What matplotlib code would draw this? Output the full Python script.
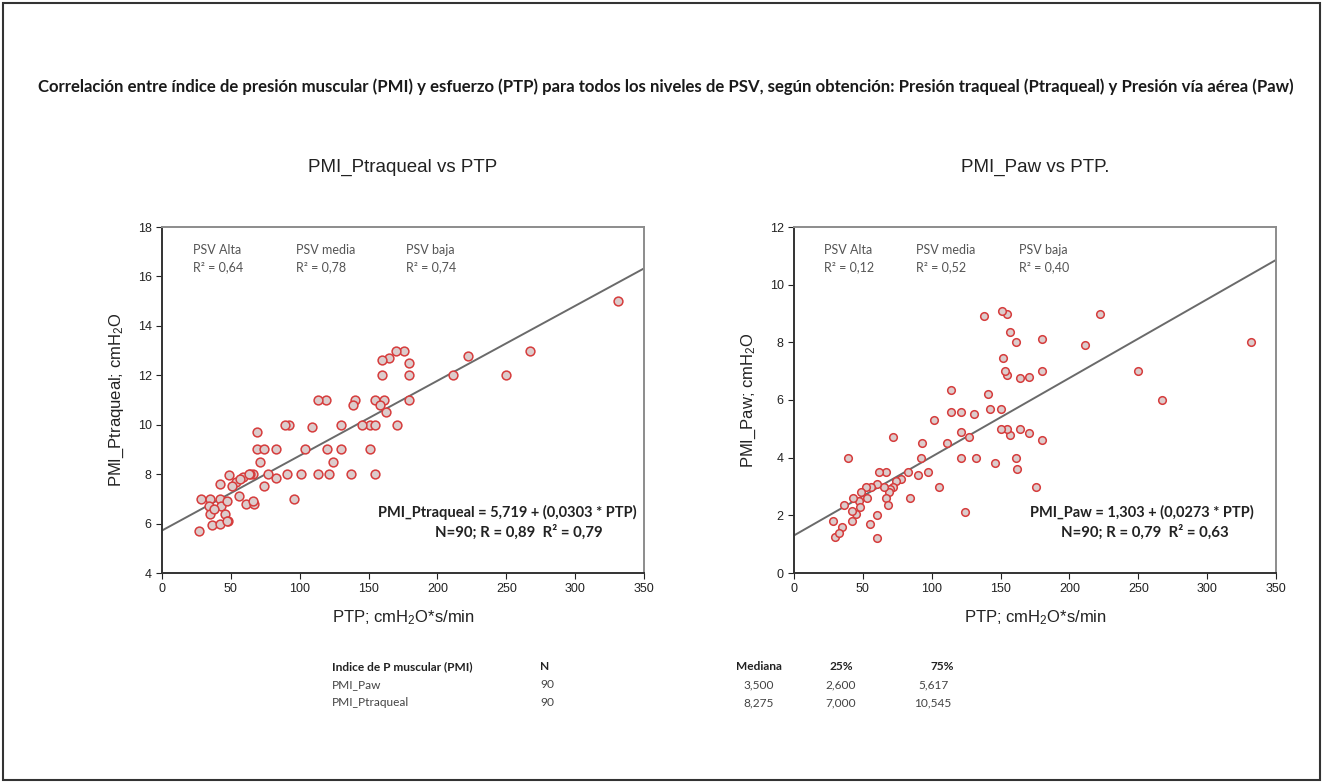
import matplotlib
matplotlib.use('Agg')
import matplotlib.pyplot as plt
from matplotlib.patches import Rectangle

plt.rcParams['font.family'] = ['Liberation Sans', 'DejaVu Sans']
plt.rcParams['mathtext.fontset'] = 'custom'
plt.rcParams['mathtext.rm'] = 'Liberation Sans'
plt.rcParams['mathtext.it'] = 'Liberation Sans'

# PTP (cmH2O*s/min) vs PMI obtained from tracheal pressure
ptp_traq = [331, 267, 250, 222, 211, 179, 179, 179, 176, 170, 165, 160, 160, 171,
            161, 155, 158, 163, 151, 155, 145, 151, 155, 140, 139, 130, 119, 113,
            109, 92, 89, 130, 120, 104, 124, 137, 121, 113, 101, 91, 83, 77, 96,
            69, 69, 74, 83, 71, 74, 66, 64, 59, 49, 54, 51, 42, 56, 61, 67, 28,
            35, 42, 34, 43, 35, 46, 48, 36, 42, 47, 27, 63, 57, 66, 47, 38]
pmi_traq = [15.0, 13.0, 12.0, 12.8, 12.0, 12.5, 12.0, 11.0, 13.0, 13.0, 12.7, 12.6,
            12.0, 10.0, 11.0, 11.0, 10.8, 10.5, 10.0, 10.0, 10.0, 9.0, 8.0, 11.0,
            10.8, 10.0, 11.0, 11.0, 9.9, 10.0, 10.0, 9.0, 9.0, 9.0, 8.5, 8.0, 8.0,
            8.0, 8.0, 8.0, 7.85, 8.0, 7.0, 9.7, 9.0, 9.0, 9.0, 8.5, 7.5, 8.0, 8.0,
            7.9, 7.95, 7.7, 7.5, 7.6, 7.1, 6.8, 6.8, 7.0, 7.0, 7.0, 6.7, 6.7, 6.4,
            6.4, 6.1, 5.95, 6.0, 6.1, 5.7, 8.0, 7.8, 6.9, 6.9, 6.6]

# PTP vs PMI obtained from airway pressure
ptp_paw = [332, 267, 250, 222, 211, 180, 180, 180, 176, 171, 171, 164, 164, 161,
           161, 162, 157, 157, 155, 155, 155, 153, 152, 151, 150, 150, 146, 142,
           141, 138, 132, 131, 127, 124, 121, 121, 121, 114, 114, 111, 105, 102,
           97, 93, 92, 90, 83, 84, 78, 74, 72, 72, 70, 69, 67, 67, 68, 62, 65,
           60, 60, 60, 56, 55, 52, 53, 49, 47, 43, 45, 42, 42, 39, 36, 35, 28,
           30, 33, 48]
pmi_paw = [8.0, 6.0, 7.0, 9.0, 7.9, 8.1, 7.0, 4.6, 3.0, 6.8, 4.85, 6.75, 5.0, 8.0,
           4.0, 3.6, 8.35, 4.8, 9.0, 6.85, 5.0, 7.0, 7.45, 9.1, 5.7, 5.0, 3.8, 5.7,
           6.2, 8.9, 4.0, 5.5, 4.7, 2.1, 5.6, 4.9, 4.0, 6.35, 5.6, 4.5, 3.0, 5.3,
           3.5, 4.5, 4.0, 3.4, 3.5, 2.6, 3.25, 3.2, 4.7, 3.0, 2.9, 2.8, 3.5, 2.6,
           2.35, 3.5, 3.0, 3.1, 2.0, 1.2, 3.0, 1.7, 3.0, 2.6, 2.8, 2.5, 2.6, 2.05,
           2.15, 1.8, 4.0, 2.35, 1.6, 1.8, 1.25, 1.4, 2.3]

# regression: intercept, slope
fit_traq = (5.719, 0.0303)
fit_paw = (1.303, 0.0273)

psv_levels = ['PSV Alta', 'PSV media', 'PSV baja']
r2_traq = ['0,64', '0,78', '0,74']
r2_paw = ['0,12', '0,52', '0,40']

table_cols = ['Indice de P muscular (PMI)', 'N', 'Mediana', '25%', '75%']
table_rows = [['PMI_Paw', '90', '3,500', '2,600', '5,617'],
              ['PMI_Ptraqueal', '90', '8,275', '7,000', '10,545']]

W, H = 1326, 783
fig = plt.figure(figsize=(W / 100, H / 100), dpi=100)

def fx(px):
    return px / W

def fy(py):
    return 1 - py / H

calib = ['Lato', 'DejaVu Sans']


def panel(left, x, y, fit, r2s, ylim, yticks, title, ylabel, eq, stats,
          psv_x, eq_x, stats_x, msize):
    ax = fig.add_axes([fx(left), fy(573), fx(482), 346 / H])
    ax.scatter(x, y, s=msize, facecolor='#dccccc', edgecolor='#d63c3c',
               linewidth=1.1, zorder=3)
    xs = [0, 350]
    ax.plot(xs, [fit[0] + fit[1] * v for v in xs], color='#6a6a6a', lw=1.4, zorder=2)
    ax.set_xlim(0, 350)
    ax.set_ylim(*ylim)
    ax.set_xticks(range(0, 351, 50))
    ax.set_yticks(yticks)
    ax.tick_params(direction='out', length=4, labelsize=9, colors='#222222')
    for s in ['left', 'bottom']:
        ax.spines[s].set_color('#333333')
        ax.spines[s].set_linewidth(1.4)
    for s in ['top', 'right']:
        ax.spines[s].set_color('#8c8c8c')
        ax.spines[s].set_linewidth(1.4)
    ax.set_title(title, fontsize=13.5, pad=40, color='#222222')
    ax.set_xlabel('PTP; cmH$_2$O*s/min', fontsize=12, labelpad=9, color='#222222')
    ax.set_ylabel(ylabel, fontsize=12, labelpad=8, color='#222222')
    for px, name, r2 in zip(psv_x, psv_levels, r2s):
        ax.text(px, 0.95, name + '\nR² = ' + r2, transform=ax.transAxes,
                fontsize=9, color='#555555', va='top', family=calib,
                linespacing=1.45)
    ax.text(eq_x, 0.175, eq, transform=ax.transAxes, fontsize=10.5,
            fontweight='bold', ha='center', va='center', family=calib, color='#222222')
    ax.text(stats_x, 0.118, stats, transform=ax.transAxes, fontsize=10.8,
            fontweight='bold', ha='center', va='center', family=calib, color='#222222')
    return ax


panel(162, ptp_traq, pmi_traq, fit_traq, r2_traq, (4, 18), range(4, 19, 2),
      'PMI_Ptraqueal vs PTP', 'PMI_Ptraqueal; cmH$_2$O',
      'PMI_Ptraqueal = 5,719 + (0,0303 * PTP)', 'N=90; R = 0,89  R² = 0,79',
      [0.064, 0.278, 0.506], 0.717, 0.741, 40)
panel(794, ptp_paw, pmi_paw, fit_paw, r2_paw, (0, 12), range(0, 13, 2),
      'PMI_Paw vs PTP.', 'PMI_Paw; cmH$_2$O',
      'PMI_Paw = 1,303 + (0,0273 * PTP)', 'N=90; R = 0,79  R² = 0,63',
      [0.062, 0.253, 0.467], 0.722, 0.728, 30)

# main title
fig.text(fx(666), fy(87),
         'Correlación entre índice de presión muscular (PMI) y esfuerzo (PTP) para todos '
         'los niveles de PSV, según obtención: Presión traqueal (Ptraqueal) y Presión vía aérea (Paw)',
         ha='center', va='center', fontsize=12.05, fontweight='bold', family=calib,
         color='#1a1a1a')

# summary table
col_x = [332, 540, 759, 841, 942]
col_ha = ['left', 'left', 'center', 'center', 'center']
for c, (txt, px, ha) in enumerate(zip(table_cols, col_x, col_ha)):
    fig.text(fx(px), fy(667), txt, ha=ha, va='center', fontsize=8.6,
             fontweight='bold', family=calib, color='#222222')
for r, row in enumerate(table_rows):
    for txt, px, ha in zip(row, col_x, col_ha):
        if ha == 'center' and px > 900:
            px = 933
        fig.text(fx(px), fy(685 + r * 18), txt, ha=ha, va='center', fontsize=8.6,
                 family=calib, color='#444444')

# outer frame
fig.patches.append(Rectangle((fx(3), fy(780)), fx(1320 - 3), (780 - 3) / H,
                             transform=fig.transFigure, fill=False,
                             edgecolor='#333333', linewidth=1.5))

fig.savefig('out.png', dpi=100)
